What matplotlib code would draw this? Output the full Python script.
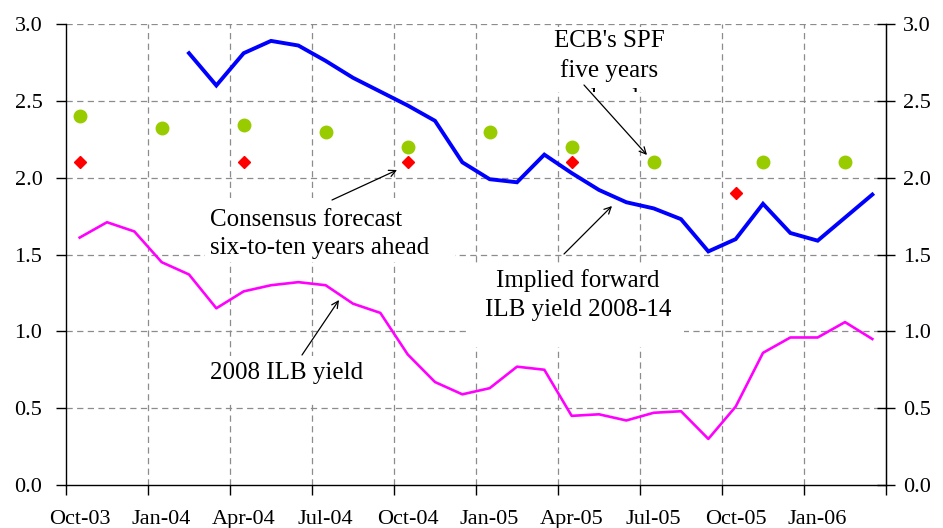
import matplotlib
matplotlib.use("Agg")
import matplotlib.pyplot as plt
from matplotlib.patches import Rectangle
from matplotlib.transforms import Bbox, TransformedBbox
import numpy as np

# ---------------- data ----------------
months = ["Oct-03", "Nov-03", "Dec-03", "Jan-04", "Feb-04", "Mar-04", "Apr-04", "May-04",
          "Jun-04", "Jul-04", "Aug-04", "Sep-04", "Oct-04", "Nov-04", "Dec-04", "Jan-05",
          "Feb-05", "Mar-05", "Apr-05", "May-05", "Jun-05", "Jul-05", "Aug-05", "Sep-05",
          "Oct-05", "Nov-05", "Dec-05", "Jan-06", "Feb-06", "Mar-06"]

ilb_2008_yield = [1.61, 1.71, 1.65, 1.45, 1.37, 1.15, 1.26, 1.30, 1.32, 1.30,
                  1.18, 1.12, 0.85, 0.67, 0.59, 0.63, 0.77, 0.75, 0.45, 0.46,
                  0.42, 0.47, 0.48, 0.30, 0.51, 0.86, 0.96, 0.96, 1.06, 0.95]

fwd_start = 4  # first month of implied forward series (Feb-04)
implied_forward = [2.81, 2.60, 2.81, 2.89, 2.86, 2.76, 2.65, 2.56, 2.47, 2.37,
                   2.10, 1.99, 1.97, 2.15, 2.03, 1.92, 1.84, 1.80, 1.73, 1.52,
                   1.60, 1.83, 1.64, 1.59, 1.74, 1.89]

consensus_idx = [0, 6, 12, 18, 24]
consensus_vals = [2.10, 2.10, 2.10, 2.10, 1.90]

spf_idx = [0, 3, 6, 9, 12, 15, 18, 21, 25, 28]
spf_vals = [2.40, 2.32, 2.34, 2.30, 2.20, 2.30, 2.20, 2.10, 2.10, 2.10]

yticks = [0.0, 0.5, 1.0, 1.5, 2.0, 2.5, 3.0]
label_every = 3

# ---------------- figure ----------------
W, H = 943, 528
fig = plt.figure(figsize=(W / 100, H / 100), dpi=100)
L, R, T, B = 66, 886, 24, 485
ax = fig.add_axes([L / W, 1 - B / H, (R - L) / W, (B - T) / H])

n = len(months)
ax.set_xlim(0, n)
ax.set_ylim(0, 3)

FONT = "Liberation Serif"
TICK_FS = 16
ANN_FS = 18


def px(xp, yp):
    """pixel -> data coordinates (for annotation placement)"""
    return ((xp - L) / ((R - L) / n), (B - yp) / ((B - T) / 3.0))


# grid lines
grid_kw = dict(color="#8c8c8c", lw=0.9, ls=(0, (5, 3.5)), zorder=0)
for yv in yticks[1:]:
    ax.axhline(yv, **grid_kw)
for xv in range(label_every, n, label_every):
    ax.axvline(xv, **grid_kw)

# data
x = np.arange(n) + 0.5
ax.plot(x, ilb_2008_yield, color="#ff00ff", lw=1.9, zorder=3)
xf = np.arange(fwd_start, fwd_start + len(implied_forward)) + 0.5
ax.plot(xf, implied_forward, color="#0000ff", lw=2.8, zorder=3, solid_joinstyle="miter")
ax.plot(np.array(consensus_idx) + 0.5, consensus_vals, ls="none", marker="D",
        ms=6.5, color="#ff0000", mec="#ff0000", zorder=4)
ax.plot(np.array(spf_idx) + 0.5, spf_vals, ls="none", marker="o",
        ms=9, color="#99cc00", mec="#99cc00", zorder=4)

# axes styling
ax.spines["top"].set_visible(False)
for s in ["left", "bottom", "right"]:
    ax.spines[s].set_color("#000000")
    ax.spines[s].set_linewidth(1.0)

ax.set_xticks(range(0, n + 1, label_every))
ax.set_xticklabels([])
ax.set_xticks(np.arange(0, n, label_every) + 0.5, minor=True)
ax.set_xticklabels(months[::label_every], minor=True, fontfamily=FONT, fontsize=TICK_FS)
ax.tick_params(axis="x", which="major", direction="out", length=7, width=1, color="#000000")
ax.tick_params(axis="x", which="minor", length=0, pad=18)

ax.set_yticks(yticks)
ax.set_yticklabels([f"{v:.1f}" for v in yticks], fontfamily=FONT, fontsize=TICK_FS)
ax.tick_params(axis="y", direction="out", length=7, width=1, pad=10, color="#000000")

ax2 = ax.twinx()
ax2.set_ylim(0, 3)
ax2.set_yticks(yticks)
ax2.set_yticklabels([f"{v:.1f}" for v in yticks], fontfamily=FONT, fontsize=TICK_FS)
ax2.tick_params(axis="y", direction="inout", length=13, width=1, pad=6, color="#000000")
for s in ["top", "left", "bottom"]:
    ax2.spines[s].set_visible(False)
ax2.spines["right"].set_color("#000000")


# white boxes behind annotation texts (cover gridlines)
def white_box(x0, y0, x1, y1):
    (dx0, dy1) = px(x0, y0)
    (dx1, dy0) = px(x1, y1)
    r = Rectangle((dx0, dy0), dx1 - dx0, dy1 - dy0, facecolor="white",
                  edgecolor="none", zorder=1)
    ax.add_patch(r)
    return (dx0, dy0, dx1, dy1)

white_box(205, 198, 455, 262)
ecb_ext = white_box(544, 27, 674, 92)
white_box(467, 266, 684, 347)
white_box(205, 356, 376, 404)

txt_kw = dict(fontfamily=FONT, fontsize=ANN_FS, color="#000000", zorder=2, linespacing=1.4)

ax.text(*px(210, 234), "Consensus forecast\nsix-to-ten years ahead", ha="left", va="center",
        multialignment="left", **txt_kw)
t_ecb = ax.text(*px(609, 70), "ECB's SPF\nfive years\nahead", ha="center", va="center",
                multialignment="center", **txt_kw)
t_ecb.set_clip_on(True)
t_ecb.set_clip_box(TransformedBbox(Bbox.from_extents(*ecb_ext), ax.transData))
ax.text(*px(578, 295), "Implied forward\nILB yield 2008-14", ha="center", va="center",
        multialignment="center", **txt_kw)
ax.text(*px(210, 373), "2008 ILB yield", ha="left", va="center", **txt_kw)

arrow_kw = dict(arrowstyle="->", color="#000000", lw=0.9, shrinkA=0, shrinkB=0,
                mutation_scale=12)
for tail, head in [((332, 200), (397, 170)),
                   ((584, 85), (647, 155)),
                   ((564, 254), (612, 206)),
                   ((302, 355), (339, 300))]:
    ax.annotate("", xy=px(*head), xytext=px(*tail), arrowprops=arrow_kw, zorder=5)

fig.savefig("out.png", dpi=100)
